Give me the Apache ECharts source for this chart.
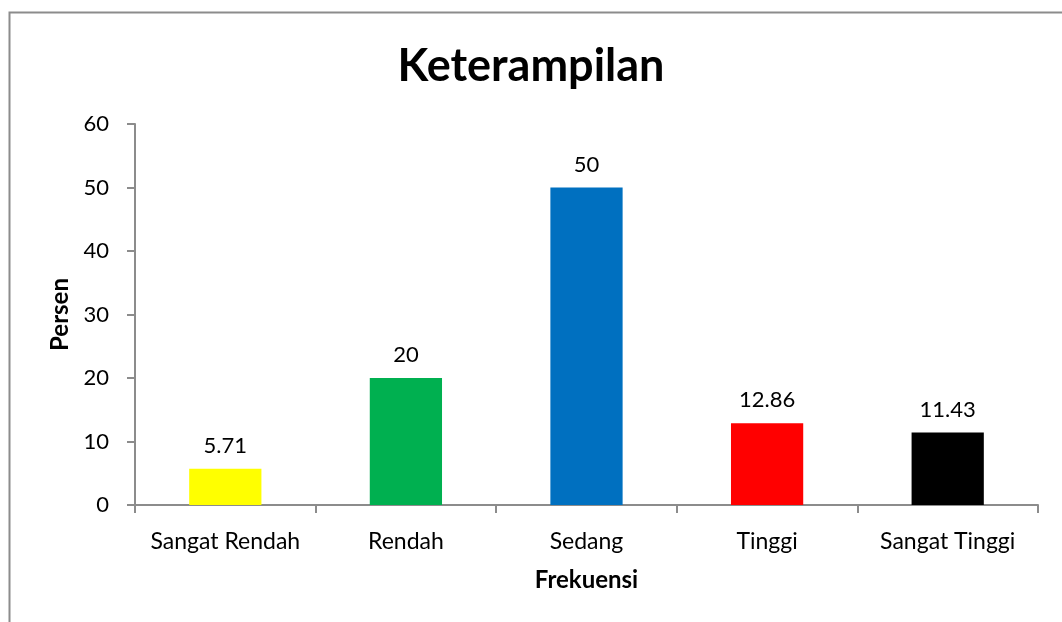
<!DOCTYPE html>
<html>
<head>
<meta charset="utf-8">
<script src="https://cdn.jsdelivr.net/npm/echarts@6/dist/echarts.min.js"></script>
<style>
  html, body { margin: 0; padding: 0; background: #fff; }
  #chart { width: 1062px; height: 622px; }
</style>
</head>
<body>
<div id="chart"></div>
<script>
var categories = ["Sangat Rendah", "Rendah", "Sedang", "Tinggi", "Sangat Tinggi"];
var values = [5.71, 20, 50, 12.86, 11.43];
var barColors = ["#FFFF00", "#00B050", "#0070C0", "#FF0000", "#000000"];
var yTicks = [0, 10, 20, 30, 40, 50, 60];

var chartDom = document.getElementById("chart");
var myChart = echarts.init(chartDom);
var font = "Lato, 'Open Sans', sans-serif";

var option = {
  backgroundColor: "#fff",
  animation: false,
  title: {
    text: "Keterampilan",
    left: "center",
    top: 39,
    textStyle: { fontFamily: font, fontSize: 45, fontWeight: "bold", color: "#000" }
  },
  graphic: [
    {
      type: "rect",
      shape: { x: 9.5, y: 12.5, width: 1100, height: 700 },
      style: { fill: "none", stroke: "#8c8c8c", lineWidth: 2 },
      silent: true
    }
  ],
  grid: { left: 135, right: 24, top: 124, bottom: 117 },
  xAxis: {
    type: "category",
    data: categories,
    name: "Frekuensi",
    nameLocation: "middle",
    nameGap: 63,
    nameTextStyle: { fontFamily: font, fontSize: 24, fontWeight: "bold", color: "#000" },
    axisLine: { lineStyle: { color: "#8c8c8c", width: 2 } },
    axisTick: { show: true, interval: 0, length: 8, lineStyle: { color: "#8c8c8c", width: 2 } },
    axisLabel: { interval: 0, fontFamily: font, fontSize: 23, color: "#000", margin: 25 }
  },
  yAxis: {
    type: "value",
    min: yTicks[0],
    max: yTicks[yTicks.length - 1],
    interval: 10,
    name: "Persen",
    nameLocation: "middle",
    nameGap: 62,
    nameRotate: 90,
    nameTextStyle: { fontFamily: font, fontSize: 24, fontWeight: "bold", color: "#000" },
    axisLine: { show: true, lineStyle: { color: "#8c8c8c", width: 2 } },
    axisTick: { show: true, length: 8, lineStyle: { color: "#8c8c8c", width: 2 } },
    splitLine: { show: false },
    axisLabel: { fontFamily: font, fontSize: 22, color: "#000", margin: 26 }
  },
  series: [
    {
      type: "bar",
      barWidth: "40%",
      data: values.map(function (v, i) {
        return { value: v, itemStyle: { color: barColors[i] } };
      }),
      label: {
        show: true,
        position: "top",
        distance: 12,
        fontFamily: font,
        fontSize: 22,
        color: "#000"
      }
    }
  ]
};

option && myChart.setOption(option);
</script>
</body>
</html>
